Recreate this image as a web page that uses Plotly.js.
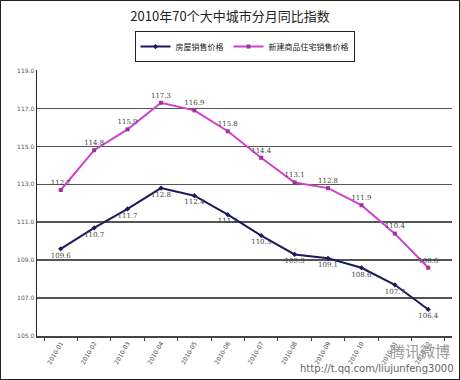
<!DOCTYPE html>
<html>
<head>
<meta charset="utf-8">
<script src="https://cdn.plot.ly/plotly-3.0.1.min.js"></script>
<style>
html,body{margin:0;padding:0;background:#fff;}
#chart{width:460px;height:380px;box-sizing:border-box;border:1px solid #222;}
</style>
</head>
<body>
<div id="chart"></div>
<script>
var months = ["2010-01","2010-02","2010-03","2010-04","2010-05","2010-06","2010-07","2010-08","2010-09","2010-10","2010-11","2010-12"];
var housePrice = [109.6,110.7,111.7,112.8,112.4,111.4,110.3,109.3,109.1,108.6,107.7,106.4];
var newHomePrice = [112.7,114.8,115.9,117.3,116.9,115.8,114.4,113.1,112.8,111.9,110.4,108.6];
var seriesNames = ["房屋销售价格","新建商品住宅销售价格"];
var titleText = "2010年70个大中城市分月同比指数";

var fontFam = "'Noto Sans CJK SC', 'DejaVu Sans', sans-serif";
var traces = [
  {x: months, y: housePrice, name: seriesNames[0], type: "scatter", mode: "lines+markers+text",
   line: {color: "#1c1a5e", width: 2}, marker: {color: "#1c1a5e", size: 4, symbol: "diamond"},
   text: housePrice.map(function(v){return v.toFixed(1);}), textposition: "bottom center",
   textfont: {size: 7, color: "#444", family: "'DejaVu Serif', serif"}},
  {x: months, y: newHomePrice, name: seriesNames[1], type: "scatter", mode: "lines+markers+text",
   line: {color: "#d040d0", width: 2}, marker: {color: "#a0309a", size: 4, symbol: "square"},
   text: newHomePrice.map(function(v){return v.toFixed(1);}), textposition: "top center",
   textfont: {size: 7, color: "#444", family: "'DejaVu Serif', serif"}}
];
var layout = {
  width: 458, height: 378,
  margin: {l: 36, r: 7, t: 69, b: 43},
  paper_bgcolor: "#fff", plot_bgcolor: "#fff",
  title: {text: titleText, x: 0.5, xanchor: "center", y: 0.958, yanchor: "middle",
          font: {size: 13, color: "#222", family: fontFam}},
  showlegend: true,
  legend: {orientation: "h", x: 0.5, xanchor: "center", y: 1.088, yanchor: "middle",
           bordercolor: "#222", borderwidth: 1, font: {size: 8, color: "#222", family: fontFam},
           tracegroupgap: 0, bgcolor: "#fff"},
  xaxis: {type: "category", showgrid: false, showline: true, linecolor: "#444", linewidth: 1.5,
          ticks: "outside", tickson: "boundaries", ticklen: 3, tickcolor: "#444",
          tickangle: -60, tickfont: {size: 6, color: "#444", family: "'DejaVu Sans', sans-serif"},
          zeroline: false, fixedrange: true},
  yaxis: {range: [105, 119.03], tick0: 105, dtick: 2, tickformat: ".1f", showgrid: true, gridcolor: "#555", gridwidth: 1.5,
          showline: true, linecolor: "#222", linewidth: 1.5, ticks: "", zeroline: false,
          tickfont: {size: 6, color: "#555", family: "'DejaVu Sans', sans-serif"}},
  annotations: [
    {text: "腾讯微博", xref: "paper", yref: "paper", x: 1.0, y: -0.056, xanchor: "right", yanchor: "middle",
     showarrow: false, font: {size: 15, color: "#999", family: fontFam}},
    {text: "http://t.qq.com/liujunfeng3000", xref: "paper", yref: "paper", x: 1.01, y: -0.124, xanchor: "right", yanchor: "middle",
     showarrow: false, font: {size: 10, color: "#666", family: "'DejaVu Sans', sans-serif"}}
  ]
};
Plotly.newPlot("chart", traces, layout, {displayModeBar: false, staticPlot: true});
</script>
</body>
</html>
